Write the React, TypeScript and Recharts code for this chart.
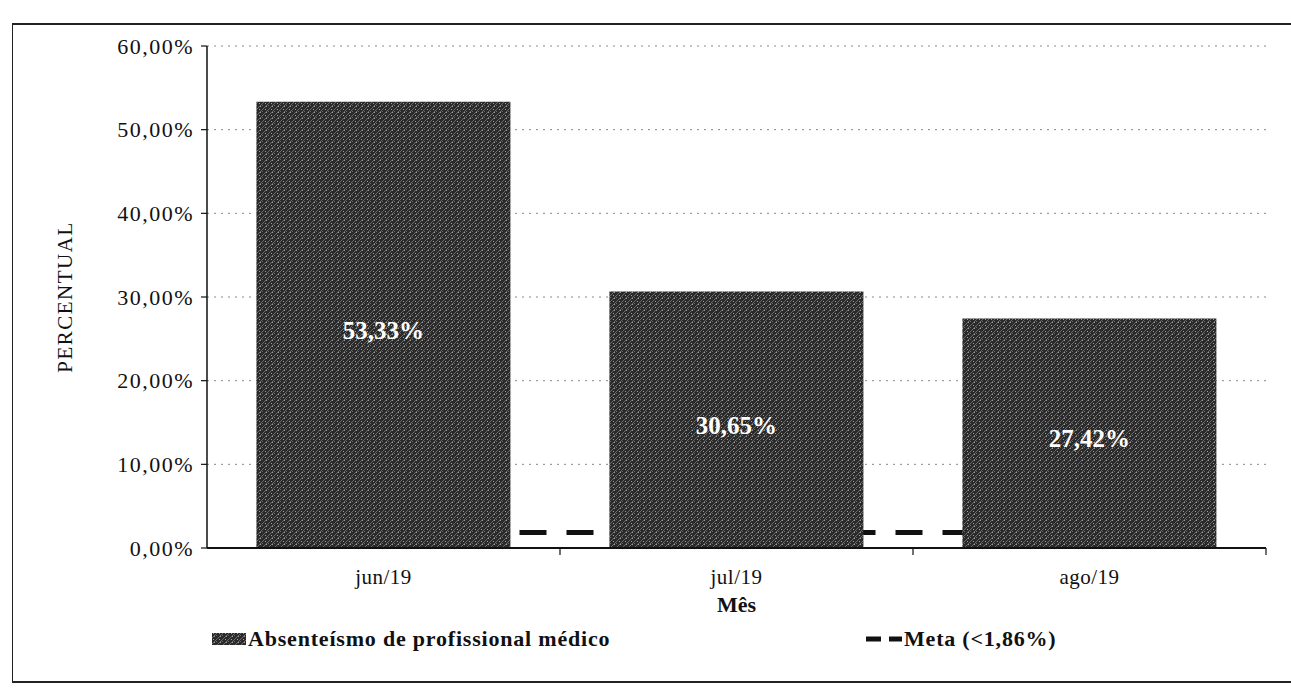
import React from 'react';
import {
  ComposedChart,
  Bar,
  Line,
  XAxis,
  YAxis,
  CartesianGrid,
  Legend,
  LabelList,
} from 'recharts';

const months = ['jun/19', 'jul/19', 'ago/19'];
const absenteismo = [53.33, 30.65, 27.42];
const meta = [1.86, 1.86, 1.86];
const yTicks = [0, 10, 20, 30, 40, 50, 60];

const data = months.map((m, i) => ({ mes: m, abs: absenteismo[i], meta: meta[i] }));

const SERIF = '"Liberation Serif", "DejaVu Serif", serif';

const pct = (v: number) => v.toFixed(2).replace('.', ',') + '%';

function XTick(props: any) {
  const { x, y, payload } = props;
  const off = payload?.offset ?? 0;
  return (
    <g>
      <line x1={x + off} x2={x + off} y1={y - 8} y2={y - 1} stroke="#111" strokeWidth={1.2} />
      <text x={x} y={y} dy={28} textAnchor="middle" fill="#111" fontFamily={SERIF} fontSize={21} letterSpacing={0.5}>
        {payload.value}
      </text>
    </g>
  );
}

function BarLabel(props: any) {
  const { x, y, width, height, value } = props;
  return (
    <text
      x={x + width / 2}
      y={y + height / 2}
      dy={14}
      textAnchor="middle"
      fill="#fff"
      fontFamily={SERIF}
      fontWeight="bold"
      fontSize={25}
    >
      {pct(value)}
    </text>
  );
}

function LegendBox() {
  const txt: React.CSSProperties = {
    fontFamily: SERIF,
    fontWeight: 'bold',
    fontSize: 22,
    letterSpacing: 0.8,
    color: '#111',
  };
  return (
    <div style={{ position: 'relative', height: 30 }}>
      <div style={{ position: 'absolute', left: 212, top: 0, display: 'flex', alignItems: 'center' }}>
        <svg width={36} height={14}>
          <rect x={0} y={1} width={34} height={12} fill="url(#texture)" />
        </svg>
        <span style={txt}>Absenteísmo de profissional médico</span>
      </div>
      <div style={{ position: 'absolute', left: 866, top: 0, display: 'flex', alignItems: 'center' }}>
        <svg width={38} height={14}>
          <line x1={0} x2={36} y1={7} y2={7} stroke="#111" strokeWidth={5} strokeDasharray="15 8" />
        </svg>
        <span style={txt}>Meta (&lt;1,86%)</span>
      </div>
    </div>
  );
}

export default function App() {
  return (
    <div style={{ position: 'relative', width: 1291, height: 691, background: '#fff' }}>
      <style>{'body{margin:0;background:#fff}'}</style>
      <div
        style={{
          position: 'absolute',
          left: 12,
          top: 23,
          width: 1300,
          height: 660,
          borderLeft: '1.5px solid #222',
          borderTop: '2px solid #222',
          borderBottom: '2px solid #222',
          boxSizing: 'border-box',
        }}
      />
      <ComposedChart
        width={1291}
        height={691}
        data={data}
        margin={{ top: 46, right: 25, bottom: 63, left: 60 }}
        barCategoryGap="14%"
        style={{ position: 'absolute', left: 0, top: 0 }}
      >
        <defs>
          <pattern id="texture" width="6" height="6" patternUnits="userSpaceOnUse">
            <rect width="6" height="6" fill="#2a2a2a" />
            <path d="M0 6 L6 0" stroke="#858585" strokeWidth="0.7" />
            <rect x="1" y="1" width="1" height="1" fill="#a0a0a0" />
            <rect x="4" y="3" width="1" height="1" fill="#6a6a6a" />
            <rect x="2" y="4" width="1" height="1" fill="#9a9a9a" />
          </pattern>
        </defs>
        <CartesianGrid vertical={false} stroke="#888" strokeDasharray="2 5" />
        <XAxis
          dataKey="mes"
          height={80}
          tickLine={false}
          tickSize={6}
          tickMargin={2}
          axisLine={{ stroke: '#111', strokeWidth: 2 }}
          tick={<XTick />}
          label={{
            value: 'Mês',
            position: 'insideTop',
            offset: 48,
            fill: '#111',
            fontFamily: SERIF,
            fontWeight: 'bold',
            fontSize: 22,
          }}
        />
        <YAxis
          width={147}
          domain={[0, 60]}
          ticks={yTicks}
          tickFormatter={pct}
          tickSize={6}
          tickMargin={7}
          axisLine={{ stroke: '#111', strokeWidth: 1.5 }}
          tickLine={{ stroke: '#111', strokeWidth: 1.2 }}
          tick={{ fill: '#111', fontFamily: SERIF, fontSize: 22, letterSpacing: 1.5 }}
          label={{
            value: 'PERCENTUAL',
            angle: -90,
            position: 'insideLeft',
            offset: 5,
            fill: '#111',
            fontFamily: SERIF,
            fontSize: 21,
            letterSpacing: 1.5,
            style: { textAnchor: 'middle' },
          }}
        />
        <Line
          dataKey="meta"
          name="Meta (<1,86%)"
          stroke="#111"
          strokeWidth={5}
          strokeDasharray="27 20"
          strokeDashoffset={5}
          dot={false}
          activeDot={false}
          zIndex={100}
          isAnimationActive={false}
        />
        <Bar
          dataKey="abs"
          name="Absenteísmo de profissional médico"
          fill="url(#texture)"
          zIndex={300}
          isAnimationActive={false}
        >
          <LabelList dataKey="abs" content={<BarLabel />} />
        </Bar>
        <Legend
          layout="horizontal"
          verticalAlign="middle"
          align="center"
          wrapperStyle={{ top: 626, left: 0, width: 1291 }}
          content={<LegendBox />}
        />
      </ComposedChart>
    </div>
  );
}
